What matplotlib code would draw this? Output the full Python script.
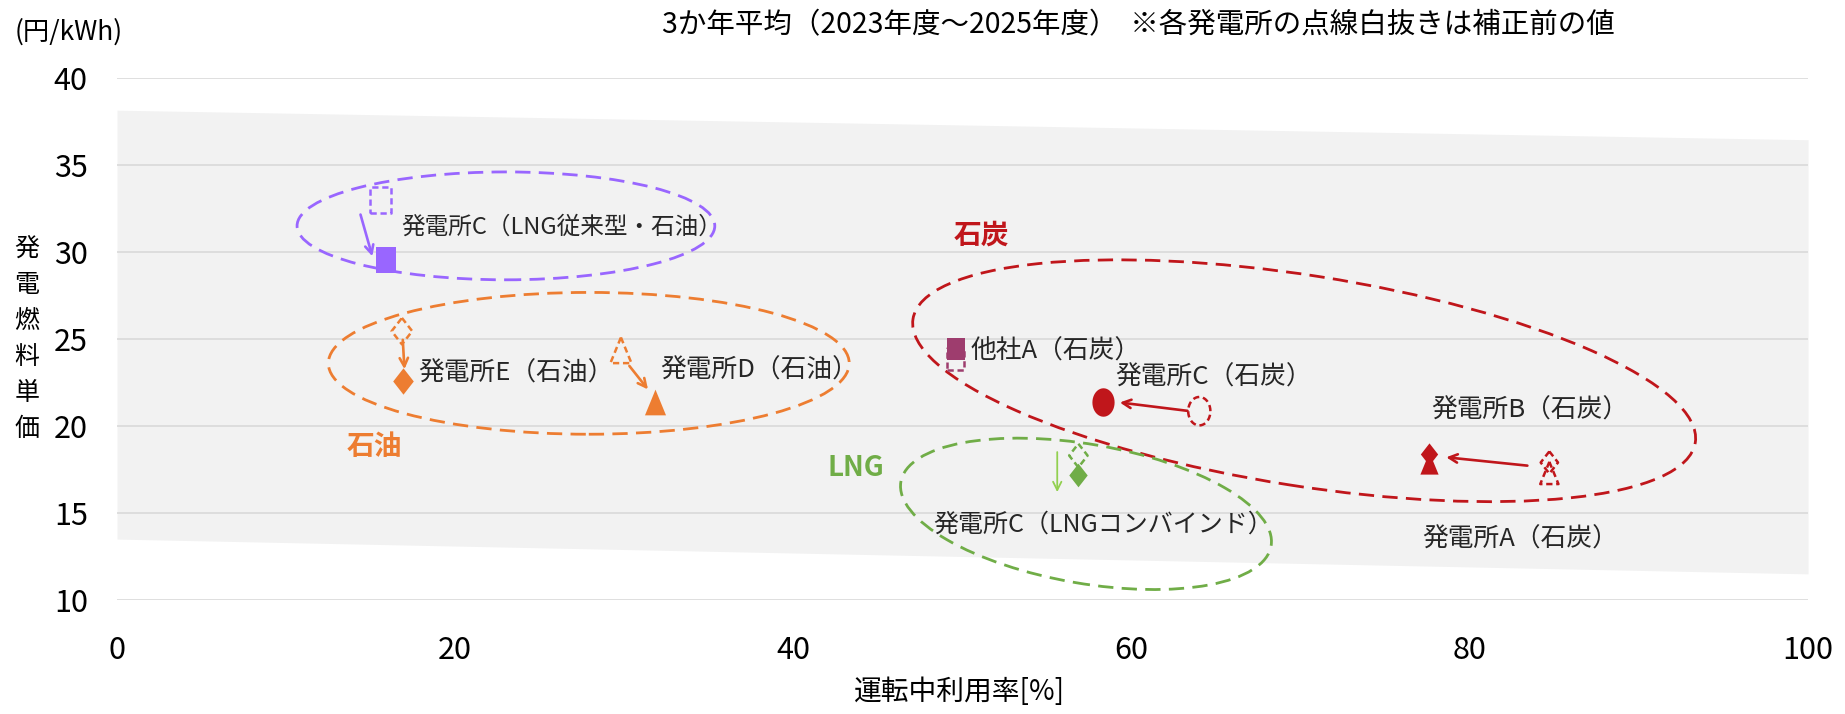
import matplotlib
matplotlib.use('Agg')
import matplotlib.pyplot as plt
import numpy as np
from matplotlib.patches import Ellipse
from matplotlib.path import Path

plt.rcParams['font.family'] = ['Noto Sans CJK JP', 'DejaVu Sans']

# --- data ---
plants = ['発電所C（LNG従来型・石油）', '発電所E（石油）', '発電所D（石油）', '他社A（石炭）',
          '発電所C（石炭）', '発電所B（石炭）', '発電所A（石炭）', '発電所C（LNGコンバインド）']
util_after = [15.9, 16.9, 31.8, 49.6, 58.3, 77.6, 77.6, 56.85]
cost_after = [29.55, 22.6, 21.4, 24.4, 21.4, 18.4, 17.85, 17.2]
util_before = [15.6, 16.85, 29.8, 49.6, 64.0, 84.7, 84.7, 56.85]
cost_before = [33.0, 25.45, 24.35, 23.85, 20.85, 17.9, 17.3, 18.3]

# arrows drawn beside the markers (start -> end)
arrow_from = [(14.4, 32.15), (16.9, 24.95), (30.3, 23.45), (63.3, 20.87), (83.4, 17.72), (55.6, 18.5)]
arrow_to = [(15.1, 29.75), (17.0, 23.26), (31.4, 22.1), (59.3, 21.35), (78.6, 18.2), (55.6, 16.2)]

# grey band (upper / lower edge at x=0 and x=100)
band_x = [0, 100]
band_top = [38.15, 36.45]
band_bottom = [13.5, 11.5]

groups = ['石炭', '石油', 'LNG']

xticks = [0, 20, 40, 60, 80, 100]
yticks = [10, 15, 20, 25, 30, 35, 40]

# --- styles ---
PURPLE = '#9966FF'
ORANGE = '#ED7D31'
RED = '#C0161B'
GREEN = '#70AD47'
MAGENTA = '#9E3D6E'
plant_colors = [PURPLE, ORANGE, ORANGE, MAGENTA, RED, RED, RED, GREEN]
plant_shapes = ['s', 'd', '^', 's', 'o', 'd', '^', 'd']
plant_sizes = [19, 19, 18.5, 16, 20.5, 16, 16, 17]
arrow_colors = [PURPLE, ORANGE, ORANGE, RED, RED, '#92D050']
label_pos = [(16.8, 31.45), (17.8, 23.0), (32.1, 23.2), (50.5, 24.25),
             (59.0, 22.8), (77.7, 20.9), (77.2, 13.5), (48.25, 14.35)]
label_sizes = [17, 18.5, 18.5, 18.5, 18.5, 18.5, 18.5, 18]
group_pos = [(51.1, 30.95), (15.2, 18.8), (43.7, 17.6)]
group_colors = [RED, ORANGE, GREEN]
# ellipse: center x, center y, width, height, angle, colour
ellipses = [(23.0, 31.5, 24.7, 6.2, 0, PURPLE),
            (27.9, 23.6, 30.8, 8.15, 0, ORANGE),
            (70.2, 22.6, 46.8, 12.1, -8.7, RED),
            (57.3, 14.95, 22.2, 8.0, -9.5, GREEN)]

ASP = 0.78


def marker_path(kind):
    h = ASP / 2
    if kind == 's':
        v = [(-h, -.5), (h, -.5), (h, .5), (-h, .5)]
    elif kind == 'd':
        v = [(0, .5), (h, 0), (0, -.5), (-h, 0)]
    elif kind == '^':
        v = [(0, .5), (h * 1.05, -.5), (-h * 1.05, -.5)]
    else:
        t = np.linspace(0, 2 * np.pi, 40, endpoint=False)
        v = list(zip(h * np.cos(t), .5 * np.sin(t)))
    return Path(v + [v[0]], closed=True)


fig = plt.figure(figsize=(18.45, 7.14), dpi=100)
ax = fig.add_axes((0.0634, 0.1597, 0.9166, 0.7311))
ax.set_xlim(0, 100)
ax.set_ylim(10, 40)

ax.fill_between(band_x, band_bottom, band_top, color='#F2F2F2', lw=0, zorder=0)
for yv in yticks:
    ax.axhline(yv, color='#D9D9D9', lw=1.2, zorder=1)

for cx, cy, w, h, ang, c in ellipses:
    ax.add_patch(Ellipse((cx, cy), w, h, angle=ang, fill=False, edgecolor=c,
                         lw=2.0, linestyle=(0, (5.5, 3)), zorder=2))

for i in range(len(plants)):
    mp = marker_path(plant_shapes[i])
    ax.scatter(util_before[i], cost_before[i], s=plant_sizes[i] ** 2, marker=mp,
               facecolors='none', edgecolors=plant_colors[i], linewidths=1.8,
               linestyles=(0, (2.5, 1.5)), zorder=4)
    ax.scatter(util_after[i], cost_after[i], s=plant_sizes[i] ** 2, marker=mp,
               color=plant_colors[i], linewidths=0, zorder=5)
    ax.text(label_pos[i][0], label_pos[i][1], plants[i], ha='left', va='center',
            fontsize=label_sizes[i], color='#262626', zorder=6)

for (x0, y0), (x1, y1), c in zip(arrow_from, arrow_to, arrow_colors):
    lw = 1.3 if c == '#92D050' else 1.9
    ax.annotate('', xy=(x1, y1), xytext=(x0, y0),
                arrowprops=dict(arrowstyle='->,head_length=0.6,head_width=0.3',
                                color=c, lw=lw, shrinkA=0, shrinkB=0), zorder=6)

for g, (gx, gy), c in zip(groups, group_pos, group_colors):
    ax.text(gx, gy, g, ha='center', va='center', fontsize=20, fontweight='bold', color=c)

for s in ax.spines.values():
    s.set_visible(False)
ax.set_xticks(xticks)
ax.set_yticks(yticks)
ax.tick_params(axis='both', length=0, labelsize=22)
ax.tick_params(axis='x', pad=25)
ax.tick_params(axis='y', pad=21)

fig.text(0.52, 0.031, '運転中利用率[%]', ha='center', va='center', fontsize=20)
fig.text(0.008, 0.955, '(円/kWh)', ha='left', va='center', fontsize=19)
fig.text(0.617, 0.964, '3か年平均（2023年度～2025年度）  ※各発電所の点線白抜きは補正前の値',
         ha='center', va='center', fontsize=20.5)
for k, ch in enumerate('発電燃料単価'):
    fig.text(0.0145, 0.651 - k * 0.0504, ch, ha='center', va='center', fontsize=18)

fig.savefig('out.png', dpi=100)
